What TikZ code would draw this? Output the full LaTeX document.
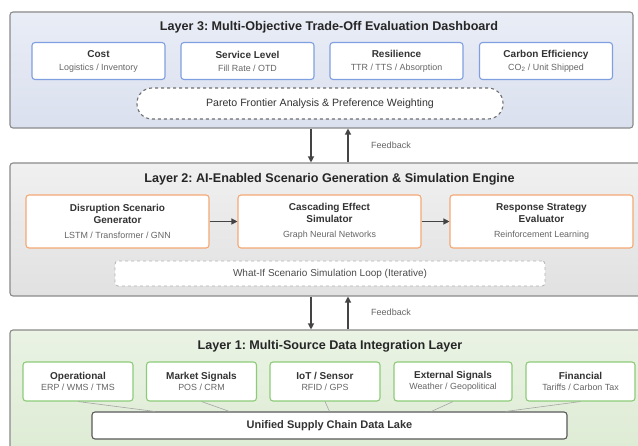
\documentclass[tikz,border=0pt]{standalone}
\usepackage{fontspec}
\setmainfont{Liberation Sans}
\usetikzlibrary{arrows.meta,calc}

\definecolor{edgegray}{HTML}{8A8A8A}
\definecolor{arrowgray}{HTML}{444444}
\definecolor{subgray}{HTML}{666666}
\definecolor{objblue}{HTML}{7F9FE0}
\definecolor{simorange}{HTML}{F4A874}
\definecolor{srcgreen}{HTML}{8CCB78}
\definecolor{bluetop}{HTML}{E9EDF6}
\definecolor{bluebot}{HTML}{DAE0EE}
\definecolor{graytop}{HTML}{F0F0F0}
\definecolor{graybot}{HTML}{E1E1E1}
\definecolor{greentop}{HTML}{EAF3E4}
\definecolor{greenbot}{HTML}{DCEAD2}
\newcommand{\subtxt}[1]{{\fontsize{8.9}{10}\selectfont\mdseries\color{subgray}#1}}
\frenchspacing

\begin{document}
\begin{tikzpicture}[x=1pt, y=-1pt,
    layerbox/.style={draw=edgegray, line width=1.1pt, rounded corners=3pt, inner sep=0pt},
    ltitle/.style={font=\fontsize{12.6}{14}\selectfont\bfseries, text=black!85},
    card/.style={draw, fill=white, line width=1.1pt, rounded corners=3pt, align=center,
        inner sep=0pt, font=\fontsize{10}{11.5}\selectfont\bfseries, text=black!80},
    flow/.style={draw=arrowgray, line width=1.2pt, -{Triangle[length=6pt,width=6pt]}},
    link/.style={draw=gray!70, line width=0.6pt}]
  \clip (0,0) rectangle (638,446);
  \fill[white] (0,0) rectangle (638,446);

  % layer 3
  \node[layerbox, top color=bluetop, bottom color=bluebot,
        minimum width=623pt, minimum height=116pt] (L3) at (321.5,70) {};
  \node[ltitle] (t3) at (329,27) {Layer 3: Multi-Objective Trade-Off Evaluation Dashboard};
  \node[card, draw=objblue, minimum width=133pt, minimum height=37pt] (cost) at (98.5,61)
    {Cost\\[1.5pt]\subtxt{Logistics / Inventory}};
  \node[card, draw=objblue, minimum width=133pt, minimum height=37pt] (svc) at (247.5,61)
    {Service Level\\[1.5pt]\subtxt{Fill Rate / OTD}};
  \node[card, draw=objblue, minimum width=133pt, minimum height=37pt] (res) at (396.5,61)
    {Resilience\\[1.5pt]\subtxt{TTR / TTS / Absorption}};
  \node[card, draw=objblue, minimum width=133pt, minimum height=37pt] (carb) at (546,61)
    {Carbon Efficiency\\[1.5pt]\subtxt{CO\textsubscript{2} / Unit Shipped}};
  \node[card, draw=edgegray!80!black, dashed, rounded corners=15pt, minimum width=366pt,
        minimum height=31pt, font=\fontsize{10.6}{12}\selectfont] (pareto) at (320,103.5)
    {Pareto Frontier Analysis \& Preference Weighting};

  % layer 2
  \node[layerbox, top color=graytop, bottom color=graybot,
        minimum width=640pt, minimum height=133pt] (L2) at (330,229.5) {};
  \node[ltitle] (t2) at (329.5,179) {Layer 2: AI-Enabled Scenario Generation \& Simulation Engine};
  \node[card, draw=simorange, minimum width=183pt, minimum height=53pt] (dis) at (117.5,221.5)
    {Disruption Scenario\\Generator\\[3.5pt]\subtxt{LSTM / Transformer / GNN}};
  \node[card, draw=simorange, minimum width=183pt, minimum height=53pt] (cas) at (329.5,221.5)
    {Cascading Effect\\Simulator\\[3.5pt]\subtxt{Graph Neural Networks}};
  \node[card, draw=simorange, minimum width=183pt, minimum height=53pt] (resp) at (541.5,221.5)
    {Response Strategy\\Evaluator\\[3.5pt]\subtxt{Reinforcement Learning}};
  \node[card, draw=gray!60, dashed, line width=0.8pt, minimum width=430pt, minimum height=25pt,
        font=\fontsize{10}{12}\selectfont, text=black!70] (loop) at (330,273.5)
    {What-If Scenario Simulation Loop (Iterative)};
  \draw[flow] (dis) -- (cas);
  \draw[flow] (cas) -- (resp);

  % layer 1
  \node[layerbox, top color=greentop, bottom color=greenbot,
        minimum width=640pt, minimum height=140pt] (L1) at (330,400) {};
  \node[ltitle] (t1) at (330,346) {Layer 1: Multi-Source Data Integration Layer};
  \node[card, draw=srcgreen, minimum width=110pt, minimum height=39pt] (ops) at (78,381.5)
    {Operational\\[0pt]\subtxt{ERP / WMS / TMS}};
  \node[card, draw=srcgreen, minimum width=110pt, minimum height=39pt] (mkt) at (201.5,381.5)
    {Market Signals\\[0pt]\subtxt{POS / CRM}};
  \node[card, draw=srcgreen, minimum width=110pt, minimum height=39pt] (iot) at (325,381.5)
    {IoT / Sensor\\[0pt]\subtxt{RFID / GPS}};
  \node[card, draw=srcgreen, minimum width=118pt, minimum height=39pt] (ext) at (453,381.5)
    {External Signals\\[0pt]\subtxt{Weather / Geopolitical}};
  \node[card, draw=srcgreen, minimum width=109pt, minimum height=39pt] (fin) at (580.5,381.5)
    {Financial\\[0pt]\subtxt{Tariffs / Carbon Tax}};
  \node[card, draw=black!65, minimum width=475pt, minimum height=27pt,
        font=\fontsize{11}{13}\selectfont\bfseries] (lake) at (329.5,425.5)
    {Unified Supply Chain Data Lake};
  \draw[link] (ops.south) -- ($(lake.north west)!0.133!(lake.north east)$);
  \draw[link] (mkt.south) -- ($(lake.north west)!0.29!(lake.north east)$);
  \draw[link] (iot.south) -- ($(lake.north west)!0.5!(lake.north east)$);
  \draw[link] (ext.south) -- ($(lake.north west)!0.714!(lake.north east)$);
  \draw[link] (fin.south) -- ($(lake.north west)!0.87!(lake.north east)$);

  % between layers
  \coordinate (dn) at (311,0);
  \coordinate (up) at (348,0);
  \draw[flow] (L3.south -| dn) -- (L2.north -| dn);
  \draw[flow] (L2.north -| up) -- (L3.south -| up);
  \node[font=\fontsize{9}{10}\selectfont, text=subgray] (fb1) at (391,145) {Feedback};
  \draw[flow] (L2.south -| dn) -- (L1.north -| dn);
  \draw[flow] (L1.north -| up) -- (L2.south -| up);
  \node[font=\fontsize{9}{10}\selectfont, text=subgray] (fb2) at (391,312) {Feedback};
\end{tikzpicture}
\end{document}
